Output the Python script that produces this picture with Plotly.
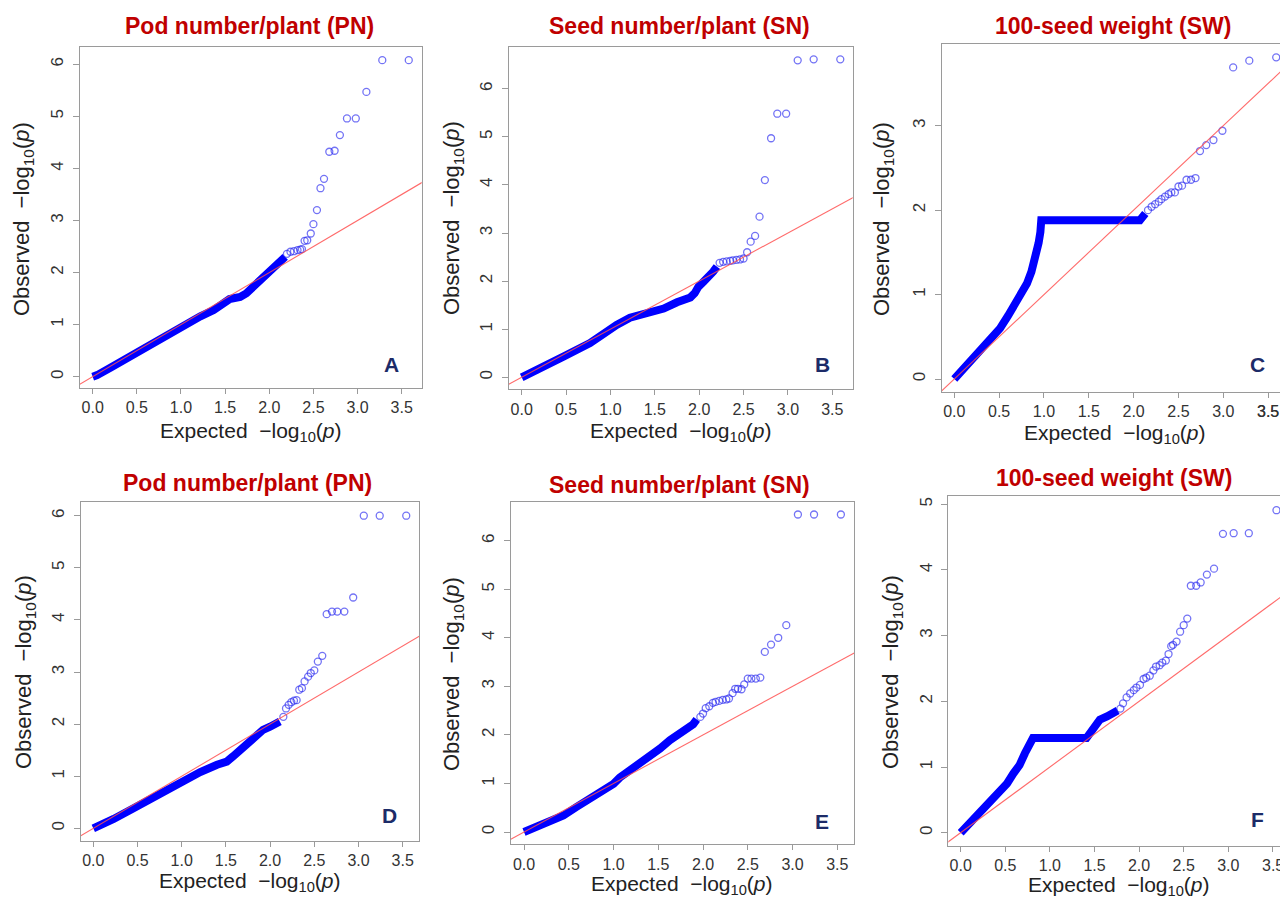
import plotly.graph_objects as go

# ---------------- data ----------------
titles = ["Pod number/plant (PN)", "Seed number/plant (SN)", "100-seed weight (SW)",
          "Pod number/plant (PN)", "Seed number/plant (SN)", "100-seed weight (SW)"]
letters = ["A", "B", "C", "D", "E", "F"]

# dense (overlapping) part of each QQ curve: knots along the band
a_dense_x = [0, 0.05, 0.20, 0.46, 0.76, 0.91, 1.06, 1.22, 1.37, 1.48, 1.55, 1.67, 1.74, 1.82, 1.90, 1.95, 2.00, 2.05, 2.12, 2.18]
a_dense_y = [0, 0.03, 0.17, 0.43, 0.70, 0.86, 1.04, 1.16, 1.28, 1.41, 1.49, 1.53, 1.60, 1.73, 1.86, 1.92, 1.98, 2.11, 2.18, 2.30]
a_tail_x = [2.20, 2.24, 2.28, 2.32, 2.35, 2.37, 2.40, 2.43, 2.47, 2.50, 2.54, 2.58, 2.62, 2.68, 2.74, 2.80, 2.88, 2.98, 3.10, 3.28, 3.58]
a_tail_y = [2.36, 2.40, 2.41, 2.43, 2.44, 2.45, 2.61, 2.62, 2.75, 2.93, 3.20, 3.62, 3.80, 4.32, 4.34, 4.64, 4.96, 4.96, 5.47, 6.08, 6.08]

b_dense_x = [0, 0.06, 0.13, 0.24, 0.47, 0.77, 0.92, 1.07, 1.22, 1.33, 1.45, 1.60, 1.75, 1.82, 1.90, 1.95, 1.99, 2.05, 2.11, 2.16, 2.20]
b_dense_y = [0, 0.05, 0.12, 0.22, 0.43, 0.71, 0.91, 1.09, 1.24, 1.29, 1.34, 1.43, 1.56, 1.62, 1.66, 1.75, 1.88, 1.99, 2.09, 2.20, 2.30]
b_tail_x = [2.23, 2.27, 2.31, 2.35, 2.38, 2.42, 2.46, 2.50, 2.54, 2.58, 2.63, 2.68, 2.74, 2.81, 2.88, 2.98, 3.11, 3.29, 3.59]
b_tail_y = [2.38, 2.40, 2.41, 2.42, 2.43, 2.44, 2.45, 2.47, 2.60, 2.82, 2.94, 3.34, 4.10, 4.97, 5.48, 5.48, 6.59, 6.61, 6.61]

c_dense_x = [0, 0.06, 0.21, 0.36, 0.51, 0.60, 0.66, 0.73, 0.78, 0.81, 0.86, 0.90, 0.92, 0.94, 0.96, 0.97, 2.07, 2.09, 2.13]
c_dense_y = [0, 0.07, 0.26, 0.42, 0.60, 0.75, 0.86, 0.98, 1.06, 1.13, 1.27, 1.42, 1.52, 1.61, 1.74, 1.88, 1.88, 1.92, 1.96]
c_tail_x = [2.16, 2.20, 2.24, 2.28, 2.31, 2.35, 2.39, 2.42, 2.46, 2.50, 2.54, 2.59, 2.64, 2.69, 2.74, 2.81, 2.89, 2.99, 3.11, 3.29, 3.59]
c_tail_y = [2.00, 2.04, 2.07, 2.10, 2.13, 2.16, 2.19, 2.21, 2.21, 2.28, 2.29, 2.36, 2.36, 2.38, 2.70, 2.77, 2.83, 2.94, 3.69, 3.77, 3.81]

d_dense_x = [0, 0.08, 0.23, 0.45, 0.75, 0.91, 1.06, 1.21, 1.40, 1.51, 1.58, 1.66, 1.74, 1.79, 1.85, 1.92, 2.00, 2.06, 2.11]
d_dense_y = [0, 0.06, 0.18, 0.38, 0.66, 0.82, 0.95, 1.08, 1.22, 1.28, 1.38, 1.50, 1.60, 1.66, 1.79, 1.89, 1.95, 2.02, 2.05]
d_tail_x = [2.15, 2.18, 2.21, 2.24, 2.27, 2.30, 2.33, 2.36, 2.39, 2.43, 2.46, 2.50, 2.54, 2.59, 2.64, 2.70, 2.76, 2.84, 2.94, 3.06, 3.24, 3.54]
d_tail_y = [2.14, 2.30, 2.37, 2.42, 2.45, 2.46, 2.66, 2.69, 2.82, 2.91, 2.98, 3.03, 3.20, 3.31, 4.11, 4.16, 4.16, 4.16, 4.43, 6.00, 6.00, 6.00]

e_dense_x = [0, 0.10, 0.25, 0.44, 0.59, 0.74, 0.89, 1.00, 1.07, 1.18, 1.30, 1.41, 1.52, 1.63, 1.71, 1.82, 1.89, 1.93]
e_dense_y = [0, 0.07, 0.17, 0.34, 0.52, 0.69, 0.86, 0.99, 1.12, 1.26, 1.40, 1.55, 1.72, 1.89, 2.00, 2.10, 2.22, 2.32]
e_tail_x = [1.97, 2.00, 2.03, 2.07, 2.11, 2.14, 2.18, 2.22, 2.26, 2.29, 2.33, 2.36, 2.39, 2.43, 2.46, 2.50, 2.54, 2.59, 2.64, 2.69, 2.76, 2.84, 2.93, 3.06, 3.24, 3.54]
e_tail_y = [2.37, 2.44, 2.55, 2.59, 2.66, 2.68, 2.70, 2.72, 2.73, 2.75, 2.86, 2.95, 2.95, 2.94, 3.04, 3.16, 3.16, 3.16, 3.18, 3.71, 3.86, 4.00, 4.26, 6.54, 6.54, 6.54]

f_dense_x = [0, 0.10, 0.25, 0.40, 0.52, 0.59, 0.66, 0.72, 0.78, 0.81, 1.41, 1.45, 1.51, 1.56, 1.64, 1.71, 1.76]
f_dense_y = [0, 0.14, 0.35, 0.55, 0.75, 0.90, 1.03, 1.21, 1.36, 1.44, 1.44, 1.51, 1.64, 1.72, 1.77, 1.82, 1.86]
f_tail_x = [1.79, 1.82, 1.86, 1.90, 1.94, 1.97, 2.01, 2.05, 2.08, 2.12, 2.16, 2.19, 2.23, 2.26, 2.30, 2.33, 2.36, 2.38, 2.42, 2.46, 2.50, 2.54, 2.58, 2.64, 2.69, 2.76, 2.84, 2.94, 3.06, 3.23, 3.54]
f_tail_y = [1.89, 1.97, 2.06, 2.12, 2.17, 2.21, 2.25, 2.34, 2.36, 2.39, 2.47, 2.53, 2.55, 2.59, 2.62, 2.72, 2.84, 2.86, 2.91, 3.06, 3.16, 3.26, 3.76, 3.76, 3.81, 3.93, 4.02, 4.55, 4.56, 4.56, 4.91]

dense_x = [a_dense_x, b_dense_x, c_dense_x, d_dense_x, e_dense_x, f_dense_x]
dense_y = [a_dense_y, b_dense_y, c_dense_y, d_dense_y, e_dense_y, f_dense_y]
tail_x = [a_tail_x, b_tail_x, c_tail_x, d_tail_x, e_tail_x, f_tail_x]
tail_y = [a_tail_y, b_tail_y, c_tail_y, d_tail_y, e_tail_y, f_tail_y]
y_max_tick = [6, 6, 3, 6, 6, 5]
x_tick_vals = [0, 0.5, 1, 1.5, 2, 2.5, 3, 3.5]
x_tick_text = ["0.0", "0.5", "1.0", "1.5", "2.0", "2.5", "3.0", "3.5"]

# ---------------- layout (pixel geometry) ----------------
W, H = 1280, 899
geom = [
    dict(L=80, R=421.7, T=46.7, B=388, x0=92.7, x1=401.7, xv=3.5, y0=376.7, y1=64.3, yv=6,
         title=(249, 26), xt=(251, 432), yt=(23, 219), let=(391, 365)),
    dict(L=509, R=852.7, T=46.7, B=389.3, x0=521.7, x1=832.3, xv=3.5, y0=377.3, y1=88.7, yv=6,
         title=(679, 26), xt=(681, 432), yt=(453, 218), let=(822, 364)),
    dict(L=941.7, R=1280, T=44.3, B=391.7, x0=954.3, x1=1223.3, xv=3.0, y0=379, y1=125.7, yv=3,
         title=(1113, 26), xt=(1115, 434), yt=(883, 219), let=(1257, 364)),
    dict(L=81, R=419, T=502.3, B=840.7, x0=93.3, x1=402.7, xv=3.5, y0=828.3, y1=515.7, yv=6,
         title=(247, 483), xt=(250, 882), yt=(25, 672), let=(389, 815)),
    dict(L=511, R=854, T=501.7, B=844.3, x0=524, x1=837.3, xv=3.5, y0=832, y1=540.7, yv=6,
         title=(679, 485), xt=(682, 885), yt=(453, 674), let=(822, 821)),
    dict(L=948.3, R=1280, T=496, B=845.7, x0=960.7, x1=1228.3, xv=3.0, y0=832.7, y1=504.3, yv=5,
         title=(1114, 478), xt=(1119, 886), yt=(892, 672), let=(1257, 819)),
]

FONT = "Arial, Liberation Sans, sans-serif"
fig = go.Figure()
annotations = []
layout_axes = {}

for i in range(6):
    g = geom[i]
    sfx = "" if i == 0 else str(i + 1)
    xa, ya = "x" + sfx, "y" + sfx
    sx = (g["x1"] - g["x0"]) / g["xv"]
    sy = (g["y0"] - g["y1"]) / g["yv"]
    xr = [(g["L"] - g["x0"]) / sx, (g["R"] - g["x0"]) / sx]
    yr = [(g["y0"] - g["B"]) / sy, (g["y0"] - g["T"]) / sy]

    fig.add_trace(go.Scatter(x=dense_x[i], y=dense_y[i], mode="lines", xaxis=xa, yaxis=ya,
                             line=dict(color="#0000FF", width=8), showlegend=False, hoverinfo="skip"))
    fig.add_trace(go.Scatter(x=tail_x[i], y=tail_y[i], mode="markers", xaxis=xa, yaxis=ya,
                             marker=dict(symbol="circle-open", size=7, color="rgba(40,40,240,0.65)",
                                         line=dict(width=1.3)),
                             showlegend=False))
    fig.add_trace(go.Scatter(x=[xr[0] - 1, xr[1] + 1], y=[xr[0] - 1, xr[1] + 1], mode="lines",
                             xaxis=xa, yaxis=ya, line=dict(color="rgba(255,80,80,0.85)", width=1.1),
                             showlegend=False, hoverinfo="skip"))

    clipped = g["R"] >= W
    layout_axes["xaxis" + sfx] = dict(
        domain=[g["L"] / W, min(g["R"] / W, 1.0)], range=xr, anchor=ya,
        showgrid=False, zeroline=False, showline=True, mirror=True, linecolor="#9a9a9a", linewidth=1,
        ticks="outside", ticklen=5, tickcolor="#9a9a9a", tickvals=x_tick_vals, ticktext=x_tick_text,
        tickfont=dict(family=FONT, size=16, color="#333333"), fixedrange=True)
    layout_axes["yaxis" + sfx] = dict(
        domain=[1 - g["B"] / H, 1 - g["T"] / H], range=yr, anchor=xa,
        showgrid=False, zeroline=False, showline=True, mirror=not clipped, linecolor="#9a9a9a", linewidth=1,
        ticks="outside", ticklen=6, tickcolor="#9a9a9a", tickvals=list(range(0, y_max_tick[i] + 1)),
        tickangle=-90, ticklabelstandoff=3, tickfont=dict(family=FONT, size=17, color="#333333"),
        fixedrange=True)

    if clipped:
        # last x tick label sits at the very edge of the page; plotly hides it, so place it directly
        annotations.append(dict(x=x_tick_vals[-1], y=0, xref=xa, yref="paper",
                                yshift=(1 - g["B"] / H) * H - 19.5, text=x_tick_text[-1], showarrow=False,
                                xanchor="center", yanchor="middle",
                                font=dict(family=FONT, size=16, color="#333333")))

    annotations.append(dict(x=g["title"][0] / W, y=1 - g["title"][1] / H, xref="paper", yref="paper",
                            text="<b>" + titles[i] + "</b>", showarrow=False, xanchor="center",
                            yanchor="middle", font=dict(family=FONT, size=23, color="#C00000")))
    annotations.append(dict(x=g["xt"][0] / W, y=1 - g["xt"][1] / H, xref="paper", yref="paper",
                            text="Expected\u00a0\u00a0\u2212log<sub>10</sub>(<i>p</i>)", showarrow=False,
                            xanchor="center", yanchor="middle", font=dict(family=FONT, size=21, color="#222222")))
    annotations.append(dict(x=g["yt"][0] / W, y=1 - g["yt"][1] / H, xref="paper", yref="paper",
                            text="Observed\u00a0\u00a0\u2212log<sub>10</sub>(<i>p</i>)", showarrow=False,
                            textangle=-90, xanchor="center", yanchor="middle",
                            font=dict(family=FONT, size=22, color="#222222")))
    annotations.append(dict(x=g["let"][0] / W, y=1 - g["let"][1] / H, xref="paper", yref="paper",
                            text="<b>" + letters[i] + "</b>", showarrow=False, xanchor="center",
                            yanchor="middle", font=dict(family=FONT, size=21, color="#1C2B68")))

fig.update_layout(width=W, height=H, margin=dict(l=0, r=0, t=0, b=0), paper_bgcolor="white",
                  plot_bgcolor="white", annotations=annotations, showlegend=False, **layout_axes)

fig.write_html("out.html", config={"displayModeBar": False})
